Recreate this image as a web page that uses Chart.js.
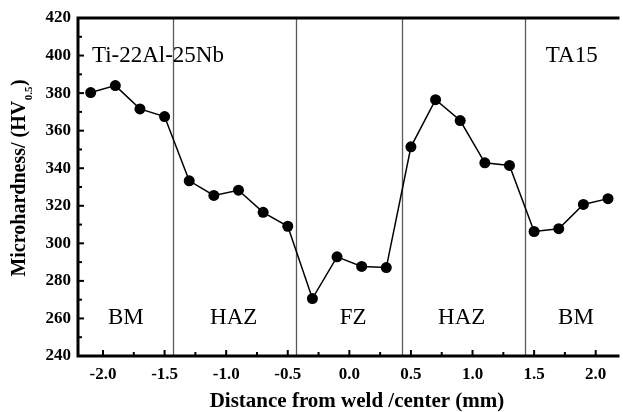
<!DOCTYPE html>
<html><head><meta charset="utf-8">
<script src="https://cdn.jsdelivr.net/npm/chart.js@4/dist/chart.umd.min.js"></script>
<style>html,body{margin:0;padding:0;background:#fff}</style>
</head><body>
<div style="width:623px;height:412px"><canvas id="c" width="623" height="412"></canvas></div>
<script>
// ---- data ----
const distance = [-2.1,-1.9,-1.7,-1.5,-1.3,-1.1,-0.9,-0.7,-0.5,-0.3,-0.1,0.1,0.3,0.5,0.7,0.9,1.1,1.3,1.5,1.7,1.9,2.1];
const hardness = [380.3,384,371.6,367.5,333.3,325.5,328.3,316.5,309.1,270.6,292.8,287.7,287.1,351.4,376.5,365.4,342.9,341.5,306.3,307.8,320.7,323.8];
const zoneBoundaries = [-1.43,-0.43,0.43,1.43];
const zoneLabels = ['BM','HAZ','FZ','HAZ','BM'];
const materialLabels = ['Ti-22Al-25Nb','TA15'];
const xTickValues = [-2.0,-1.5,-1.0,-0.5,0.0,0.5,1.0,1.5,2.0];
const yTickValues = [240,260,280,300,320,340,360,380,400,420];
const xAxisTitle = 'Distance from weld /center (mm)';
const yAxisTitle = ['Microhardness/ (HV','0.5',')'];

// ---- placement (layout only) ----
const zoneLabelX = [-1.815,-0.939,0.03,0.912,1.84];
const zoneLabelY = 257.1;
const materialLabelPos = [{x:-2.09,y:396.7},{x:1.595,y:396.7}];

const serif = '"Liberation Serif","DejaVu Serif",serif';

const overlay = {
  id:'overlay',
  beforeDatasetsDraw(chart){
    const {ctx, chartArea:a, scales:{x}} = chart;
    ctx.save();
    ctx.strokeStyle='#5a5a5a'; ctx.lineWidth=1.3;
    zoneBoundaries.forEach(v=>{
      const px = Math.round(x.getPixelForValue(v))+0.5;
      ctx.beginPath(); ctx.moveTo(px,a.top); ctx.lineTo(px,a.bottom); ctx.stroke();
    });
    ctx.restore();
  },
  afterDraw(chart){
    const {ctx, chartArea:a, scales:{x,y}} = chart;
    ctx.save();
    // axes frame
    ctx.strokeStyle='#000'; ctx.lineWidth=3;
    ctx.beginPath();
    ctx.moveTo(a.left, a.top); ctx.lineTo(a.right+2, a.top);
    ctx.moveTo(a.left, a.top-1.5); ctx.lineTo(a.left, a.bottom);
    ctx.moveTo(a.left-1.5, a.bottom); ctx.lineTo(a.right+2, a.bottom);
    ctx.stroke();
    // ticks (inward)
    ctx.lineWidth=2;
    for(let v=240; v<=420; v+=10){
      const py=y.getPixelForValue(v);
      const len = (v%20===0)?6:4;
      ctx.beginPath(); ctx.moveTo(a.left, py); ctx.lineTo(a.left+len, py); ctx.stroke();
    }
    for(let i=-8;i<=8;i++){
      const v=i*0.25;
      const px=x.getPixelForValue(v);
      const len=(i%2===0)?6:4;
      ctx.beginPath(); ctx.moveTo(px,a.bottom); ctx.lineTo(px,a.bottom-len); ctx.stroke();
    }
    // zone labels
    ctx.fillStyle='#000';
    ctx.font='23px '+serif;
    ctx.textAlign='center'; ctx.textBaseline='alphabetic';
    zoneLabels.forEach((t,i)=>{
      ctx.fillText(t, x.getPixelForValue(zoneLabelX[i]), y.getPixelForValue(zoneLabelY));
    });
    ctx.textAlign='left';
    materialLabels.forEach((t,i)=>{
      ctx.fillText(t, x.getPixelForValue(materialLabelPos[i].x), y.getPixelForValue(materialLabelPos[i].y));
    });
    // x title
    ctx.font='bold 21px '+serif;
    ctx.textAlign='center'; ctx.textBaseline='alphabetic';
    ctx.fillText(xAxisTitle, 357, 406.5);
    // y title with subscript
    ctx.translate(25, 178.5);
    ctx.rotate(-Math.PI/2);
    const fMain='bold 20px '+serif, fSub='bold 11px '+serif;
    ctx.font=fMain; const w1=ctx.measureText(yAxisTitle[0]).width; const w3=ctx.measureText(yAxisTitle[2]).width;
    ctx.font=fSub; const w2=ctx.measureText(yAxisTitle[1]).width;
    let sx=-(w1+w2+w3)/2;
    ctx.textAlign='left'; ctx.textBaseline='alphabetic';
    ctx.font=fMain; ctx.fillText(yAxisTitle[0], sx, 0); sx+=w1;
    ctx.font=fSub; ctx.fillText(yAxisTitle[1], sx+0.5, 7); sx+=w2+1;
    ctx.font=fMain; ctx.fillText(yAxisTitle[2], sx, 0);
    ctx.restore();
  }
};

new Chart(document.getElementById('c'), {
  type:'scatter',
  data:{ datasets:[{
    data: distance.map((d,i)=>({x:d,y:hardness[i]})),
    showLine:true,
    borderColor:'#000', borderWidth:1.5,
    backgroundColor:'#000', pointBackgroundColor:'#000', pointBorderColor:'#000',
    pointRadius:5.5, pointHoverRadius:5.5, pointBorderWidth:0
  }]},
  options:{
    responsive:false, devicePixelRatio:1, animation:false,
    layout:{padding:{top:18,right:0,left:0,bottom:0}},
    plugins:{legend:{display:false}, tooltip:{enabled:false}},
    scales:{
      x:{
        type:'linear', min:-2.203, max:2.177,
        afterBuildTicks(s){ s.ticks = xTickValues.map(v=>({value:v})); },
        afterFit(s){ s.height=56; },
        grid:{display:false, drawTicks:false}, border:{display:false},
        ticks:{ padding:8, color:'#000', maxRotation:0, autoSkip:false,
          font:{family:serif, size:17, weight:'bold'},
          callback:v=>Number(v).toFixed(1) }
      },
      y:{
        type:'linear', min:240, max:420,
        afterBuildTicks(s){ s.ticks = yTickValues.map(v=>({value:v})); },
        afterFit(s){ s.width=78; },
        grid:{display:false, drawTicks:false}, border:{display:false},
        ticks:{ padding:7, color:'#000', font:{family:serif, size:17, weight:'bold'} }
      }
    }
  },
  plugins:[overlay]
});
</script>
</body></html>
